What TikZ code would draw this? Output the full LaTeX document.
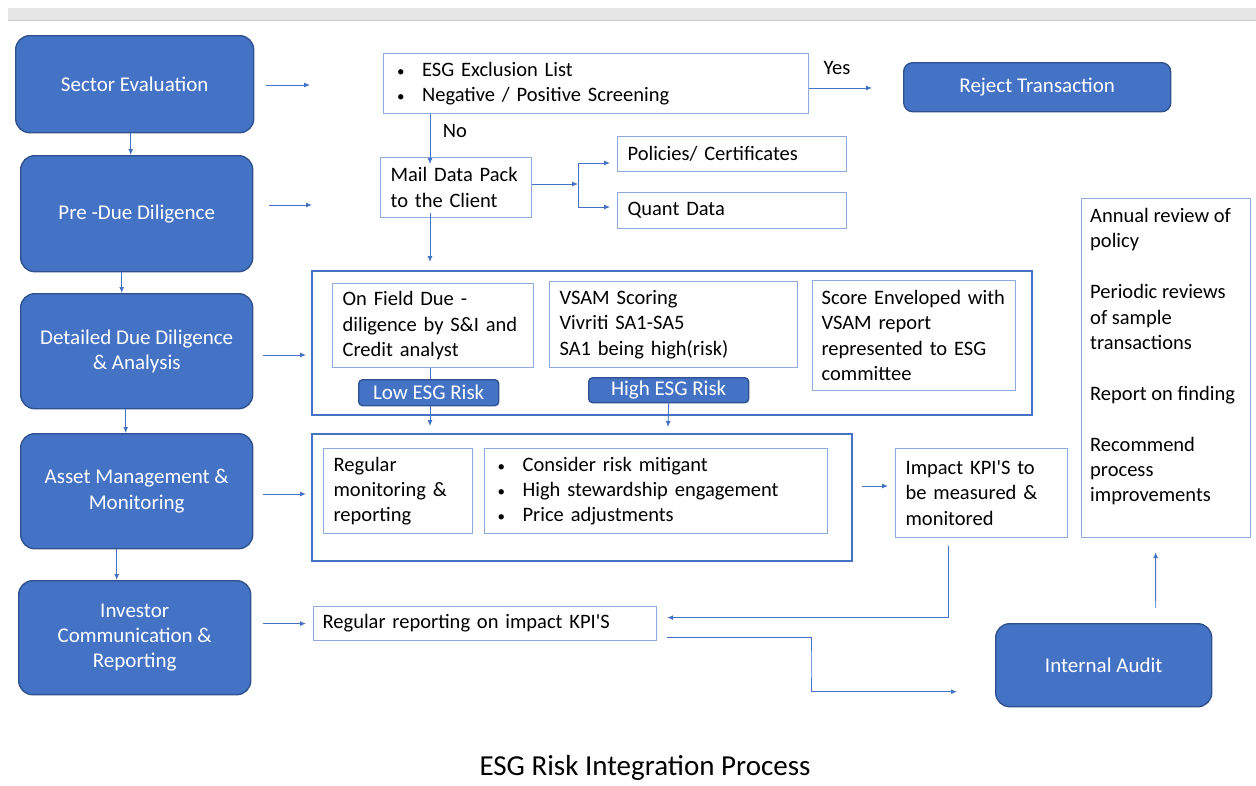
\documentclass[tikz,border=0pt]{standalone}
\usepackage{fontspec}
\setmainfont{Carlito}
\usetikzlibrary{arrows.meta,calc}
\definecolor{obl}{HTML}{4472C4}
\definecolor{obd}{HTML}{2F528F}
\definecolor{lbl}{HTML}{8EA9DB}
\definecolor{barg}{HTML}{E7E6E6}
\definecolor{barl}{HTML}{C9C9C9}
\newcommand\blt{\makebox[25pt][l]{\fontsize{15}{15}\selectfont •}}
\newcommand\apos{\textquotesingle}
\tikzset{
  bluebox/.style={draw=obd, line width=1.4pt, fill=obl, rounded corners=14pt, text=white,
    font=\fontsize{21}{25.2}\selectfont, align=center, inner sep=0pt, anchor=north west},
  wbox/.style={draw=lbl, line width=1.2pt, fill=white, font=\fontsize{20.5}{25.4}\selectfont,
    align=left, inner xsep=10pt, inner ysep=0pt, anchor=north west},
  cont/.style={draw=obl, line width=2pt},
  arr/.style={draw=obl, line width=0.9pt, -{Latex[length=6pt,width=5pt]}},
  ln/.style={draw=obl, line width=0.9pt},
  lbltext/.style={font=\fontsize{20.5}{25.4}\selectfont, inner sep=0pt},
}
\begin{document}
\begin{tikzpicture}[x=1pt,y=-1pt]
\useasboundingbox (0,0) rectangle (1256,785);
% top bar
\fill[barg] (8,8) rectangle (1256,20);
\draw[barl, line width=1pt] (8,20) -- (1256,20);

% left column
\node[bluebox, minimum width=238, minimum height=97] (se) at (15,35) {Sector Evaluation};
\node[bluebox, minimum width=232, minimum height=116] (pdd) at (20,155) {\raisebox{-2pt}{Pre -Due Diligence}};
\node[bluebox, minimum width=232, minimum height=115] (ddd) at (20,293) {Detailed Due Diligence\\ \& Analysis};
\node[bluebox, minimum width=232, minimum height=115] (amm) at (20,433) {Asset Management \&\\ Monitoring};
\node[bluebox, minimum width=232, minimum height=114] (icr) at (18,580) {Investor\\ Communication \&\\ Reporting};

\draw[arr] ([xshift=-4]se.south) -- ([xshift=-6]pdd.north);
\draw[arr] ([xshift=-15]pdd.south) -- ([xshift=-15]ddd.north);
\draw[arr] ([xshift=-11]ddd.south) -- ([xshift=-11]amm.north);
\draw[arr] ([xshift=-20]amm.south) -- ([xshift=-18]icr.north);

% free ends of the row arrows
\coordinate (t1) at (310,85);
\coordinate (t2) at (312,205);
\coordinate (t3) at (306,355);
\coordinate (t4) at (306,494);
\draw[arr] (se.east |- t1) ++(12,0) -- (t1);
\draw[arr] (pdd.east |- t2) ++(16,0) -- (t2);
\draw[arr] (ddd.east |- t3) ++(10,0) -- (t3);
\draw[arr] (amm.east |- t4) ++(10,0) -- (t4);

% screening
\node[wbox, inner xsep=13.5pt, minimum width=425, minimum height=60, text width=398] (excl) at (383,53)
  {\blt ESG Exclusion List\\ \blt Negative / Positive Screening};
\node[bluebox, rounded corners=9pt, minimum width=267, minimum height=49] (rej) at (903,62) {Reject Transaction};
\coordinate (yesend) at (872,88);
\draw[arr] (excl.east |- yesend) -- (yesend);
\node[lbltext] (yes) at (837,68) {Yes};

\node[wbox, minimum width=151, minimum height=60, text width=131] (mail) at (380,157)
  {Mail Data Pack\\ to the Client};
\coordinate (nox) at (430,0);
\draw[arr] (excl.south -| nox) -- ([yshift=-7]mail.north -| nox);
\node[lbltext] (no) at (455,131) {No};

\node[wbox, minimum width=229, minimum height=35, text width=209] (pol) at (617,136) {Policies/ Certificates};
\node[wbox, minimum width=229, minimum height=36, text width=209] (qd) at (617,192) {Quant Data};
\coordinate (split) at (578,184);
\draw[arr] (mail.east |- split) -- (split);
\draw[ln] (578,163) -- (578,207);
\draw[arr] (578,163) -- ([xshift=-7]pol.west |- 0,163);
\draw[arr] (578,207) -- ([xshift=-7]qd.west |- 0,207);

% due diligence container
\draw[cont] (312,271) rectangle (1032,415);
\coordinate (c1top) at (430,262);
\draw[arr] ([yshift=5]mail.south -| nox) -- (c1top);
\node[wbox, minimum width=201, minimum height=84, text width=181] (onf) at (332,283)
  {On Field Due -\\ diligence by S\&I and\\ Credit analyst};
\node[wbox, minimum width=248, minimum height=86, text width=228] (vsam) at (549,281)
  {VSAM Scoring\\ Vivriti SA1-SA5\\ SA1 being high(risk)};
\node[wbox, minimum width=203, minimum height=110, text width=185, inner xsep=9pt] (score) at (812,280)
  {Score Enveloped with\\ VSAM report\\ represented to ESG\\ committee};

\coordinate (lowend) at (430,426);
\draw[arr] (onf.south -| nox) -- (lowend);
\node[bluebox, rounded corners=4pt, minimum width=140, minimum height=26] (low) at (358,379) {Low ESG Risk};
\node[bluebox, rounded corners=4pt, minimum width=160, minimum height=25] (high) at (588,377) {High ESG Risk};
\coordinate (highend) at (668,427);
\draw[arr] (high.south) -- (highend);

% monitoring container
\draw[cont] (312,434) rectangle (852,561);
\node[wbox, minimum width=149, minimum height=85, text width=129] (regmon) at (323,448)
  {Regular\\ monitoring \&\\ reporting};
\node[wbox, minimum width=343, minimum height=85, text width=317, inner xsep=13pt] (mit) at (484,448)
  {\blt Consider risk mitigant\\ \blt High stewardship engagement\\ \blt Price adjustments};
\node[wbox, minimum width=172, minimum height=89, text width=152] (kpi) at (895,448)
  {Impact KPI\apos S to\\ be measured \&\\ monitored};
\coordinate (c2out) at (862,486);
\draw[arr] (c2out) -- ([xshift=-7]kpi.west |- c2out);

% reporting
\node[wbox, inner xsep=9pt, minimum width=343, minimum height=34, text width=325] (rr) at (313,606)
  {Regular reporting on impact KPI\apos S};
\draw[arr] ([xshift=12]icr.east |- rr.west) -- ([xshift=-7]rr.west);
\draw[arr] ($(kpi.south)+(-33,8)$) |- ($(rr.east)+(10,-6)$);

\node[bluebox, minimum width=216, minimum height=83] (ia) at (995,623) {Internal Audit};
\draw[arr] ($(rr.east)+(10,14)$) -| (811,664) |- ($(ia.west)+(-38,26.5)$);

% audit box
\node[draw=lbl, line width=1.2pt, fill=white, minimum width=169, minimum height=339, anchor=north west, inner sep=0pt] (annual) at (1081,198) {};
\node[lbltext, align=left, anchor=north west, inner xsep=9pt, inner ysep=10pt] (annualtxt) at (annual.north west)
  {Annual review of\\ policy\\[25.4pt] Periodic reviews\\ of sample\\ transactions\\[25.4pt] Report on finding\\[25.4pt] Recommend\\ process\\ improvements};
\draw[arr] ($(ia.north)+(52,-15)$) -- ($(annual.south)+(-10.5,14)$);

% caption
\node[font=\fontsize{29}{35}\selectfont, inner sep=0pt] (cap) at (645,768) {ESG Risk Integration Process};
\end{tikzpicture}
\end{document}
